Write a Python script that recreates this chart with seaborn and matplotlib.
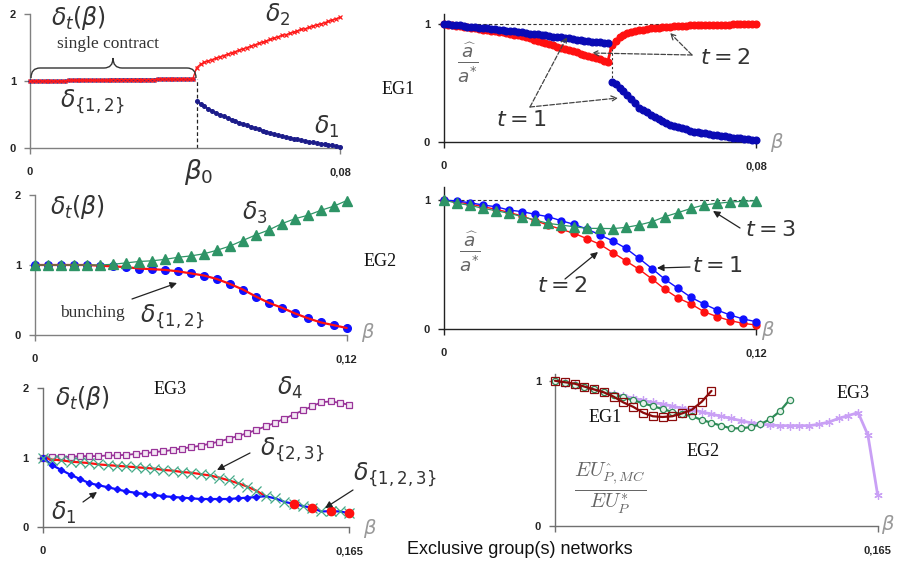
import numpy as np
import matplotlib
matplotlib.use("Agg")
import matplotlib.pyplot as plt
import seaborn as sns
from matplotlib.path import Path
from matplotlib.patches import PathPatch

sns.set_style("white")
plt.rcParams["font.family"] = ["Liberation Sans", "DejaVu Sans"]
plt.rcParams["mathtext.fontset"] = "dejavusans"

# ---------------- data ----------------
beta0 = 0.043
beta_eg1_pre = np.round(np.arange(0, 0.0425, 0.001), 3)      # 0 .. 0.042
beta_eg1_post = np.round(np.arange(0.043, 0.0805, 0.001), 3)  # 0.043 .. 0.080
beta_eg2 = np.round(np.arange(0, 0.1225, 0.005), 3)
beta_eg3 = np.round(np.arange(0, 0.1675, 0.005), 3)

# EG1 contracts
eg1_delta12 = [1.00, 1.00, 1.00, 1.00, 1.00, 1.00, 1.00, 1.00, 1.00, 1.00,
               1.01, 1.01, 1.01, 1.01, 1.01, 1.01, 1.01, 1.01, 1.01, 1.01, 1.01,
               1.02, 1.02, 1.02, 1.02, 1.02, 1.02, 1.02, 1.02, 1.02, 1.02, 1.02, 1.02,
               1.03, 1.03, 1.03, 1.03, 1.03, 1.03, 1.03, 1.03, 1.03, 1.03]
eg1_delta2 = [1.20, 1.25, 1.28, 1.30, 1.32, 1.34, 1.36, 1.38, 1.40, 1.42,
              1.44, 1.46, 1.48, 1.50, 1.52, 1.54, 1.56, 1.58, 1.60, 1.62,
              1.64, 1.66, 1.68, 1.69, 1.71, 1.73, 1.75, 1.77, 1.78, 1.80,
              1.82, 1.84, 1.85, 1.87, 1.89, 1.91, 1.93, 1.95]
eg1_delta1 = [0.70, 0.66, 0.62, 0.585, 0.555, 0.525, 0.50, 0.475, 0.45, 0.425,
              0.40, 0.38, 0.36, 0.34, 0.32, 0.30, 0.28, 0.26, 0.24, 0.225,
              0.21, 0.195, 0.18, 0.165, 0.155, 0.14, 0.13, 0.115, 0.105, 0.095,
              0.085, 0.075, 0.065, 0.055, 0.045, 0.04, 0.03, 0.02]

# EG1 effort ratios
eg1_a1_pre = [1.00, 1.00, 0.995, 0.99, 0.99, 0.985, 0.98, 0.98, 0.975, 0.97,
              0.97, 0.965, 0.96, 0.96, 0.955, 0.95, 0.945, 0.94, 0.94, 0.935,
              0.93, 0.925, 0.92, 0.92, 0.915, 0.91, 0.905, 0.90, 0.895, 0.89,
              0.89, 0.885, 0.88, 0.875, 0.87, 0.865, 0.86, 0.855, 0.85, 0.85,
              0.845, 0.84, 0.84]
eg1_a2_pre = [1.00, 0.993, 0.99, 0.986, 0.982, 0.978, 0.974, 0.97, 0.965, 0.96,
              0.955, 0.95, 0.945, 0.94, 0.935, 0.93, 0.925, 0.92, 0.91, 0.905,
              0.90, 0.89, 0.88, 0.87, 0.86, 0.85, 0.84, 0.83, 0.82, 0.81,
              0.80, 0.79, 0.78, 0.77, 0.76, 0.75, 0.74, 0.73, 0.72, 0.71,
              0.70, 0.69, 0.68]
eg1_a1_post = [0.51, 0.49, 0.46, 0.43, 0.40, 0.36, 0.33, 0.29, 0.27, 0.25,
               0.23, 0.21, 0.19, 0.175, 0.16, 0.145, 0.135, 0.125, 0.115, 0.105,
               0.095, 0.085, 0.08, 0.075, 0.07, 0.065, 0.06, 0.055, 0.05, 0.045,
               0.04, 0.035, 0.032, 0.028, 0.025, 0.02, 0.017, 0.015]
eg1_a2_post = [0.82, 0.86, 0.89, 0.91, 0.925, 0.935, 0.945, 0.95, 0.955, 0.96,
               0.965, 0.97, 0.972, 0.975, 0.978, 0.98, 0.982, 0.984, 0.986, 0.988,
               0.99, 0.991, 0.992, 0.993, 0.994, 0.995, 0.996, 0.997, 0.997, 0.998,
               0.998, 0.999, 0.999, 1.0, 1.0, 1.0, 1.0, 1.0]

# EG2 contracts
eg2_delta3 = [1.00, 1.00, 1.00, 1.00, 1.00, 1.00, 1.01, 1.03, 1.05, 1.06,
              1.08, 1.11, 1.13, 1.16, 1.21, 1.27, 1.35, 1.43, 1.50, 1.59,
              1.66, 1.71, 1.78, 1.84, 1.92]
eg2_delta12 = [1.00, 1.00, 1.00, 1.00, 1.00, 0.99, 0.98, 0.97, 0.95, 0.94,
               0.93, 0.91, 0.88, 0.85, 0.80, 0.73, 0.65, 0.55, 0.46, 0.39,
               0.31, 0.24, 0.18, 0.14, 0.10]

# EG2 effort ratios
eg2_a1 = [1.0, 0.992, 0.979, 0.961, 0.948, 0.922, 0.910, 0.889, 0.871, 0.840,
          0.811, 0.775, 0.729, 0.682, 0.625, 0.548, 0.468, 0.385, 0.315, 0.245,
          0.194, 0.147, 0.109, 0.078, 0.057]
eg2_a2 = [1.0, 0.984, 0.969, 0.948, 0.928, 0.904, 0.876, 0.840, 0.806, 0.773,
          0.742, 0.700, 0.656, 0.592, 0.527, 0.463, 0.388, 0.307, 0.240, 0.194,
          0.134, 0.096, 0.065, 0.044, 0.031]
eg2_a3 = [1.0, 0.974, 0.959, 0.935, 0.917, 0.897, 0.871, 0.845, 0.819, 0.806,
          0.793, 0.780, 0.780, 0.778, 0.788, 0.806, 0.832, 0.871, 0.902, 0.935,
          0.961, 0.974, 0.984, 0.990, 0.995]

# EG3 contracts
eg3_delta4 = [1.00, 1.01, 1.01, 1.01, 1.02, 1.02, 1.02, 1.03, 1.03, 1.04,
              1.05, 1.06, 1.08, 1.09, 1.11, 1.13, 1.15, 1.17, 1.20, 1.23,
              1.27, 1.31, 1.35, 1.40, 1.45, 1.50, 1.56, 1.62, 1.68, 1.74,
              1.80, 1.81, 1.79, 1.76]
eg3_delta1 = [1.00, 0.89, 0.82, 0.75, 0.69, 0.63, 0.60, 0.57, 0.54, 0.51,
              0.49, 0.47, 0.46, 0.44, 0.43, 0.42, 0.41, 0.40, 0.40, 0.40,
              0.40, 0.41, 0.42, 0.43]
eg3_delta23 = [1.00, 0.97, 0.96, 0.94, 0.93, 0.92, 0.90, 0.89, 0.88, 0.87,
               0.86, 0.85, 0.84, 0.82, 0.81, 0.79, 0.78, 0.76, 0.74, 0.71,
               0.67, 0.63, 0.58, 0.52]
eg3_delta123 = [0.44, 0.41, 0.36, 0.33, 0.30, 0.27, 0.22, 0.225, 0.22, 0.195]

# principal's utility ratio
eu_eg1 = [1.00, 0.99, 0.98, 0.96, 0.94, 0.92, 0.89, 0.85, 0.82, 0.78,
          0.755, 0.75, 0.755, 0.775, 0.80, 0.855, 0.93]
eu_eg2 = [1.00, 0.985, 0.97, 0.955, 0.94, 0.925, 0.905, 0.885, 0.865, 0.845,
          0.825, 0.805, 0.785, 0.77, 0.755, 0.73, 0.71, 0.69, 0.672, 0.672,
          0.68, 0.70, 0.735, 0.79, 0.87]
eu_eg3 = [1.00, 0.985, 0.97, 0.955, 0.94, 0.925, 0.91, 0.895, 0.88, 0.865,
          0.85, 0.84, 0.825, 0.81, 0.80, 0.785, 0.77, 0.755, 0.74, 0.725,
          0.71, 0.70, 0.695, 0.69, 0.69, 0.69, 0.69, 0.70, 0.715, 0.74,
          0.76, 0.78, 0.625, 0.21]

# ---------------- figure ----------------
W, H = 897, 566
fig = plt.figure(figsize=(W / 100, H / 100), dpi=100)


def rect(l, r, t, b):
    return [l / W, 1 - b / H, (r - l) / W, (b - t) / H]


def fp(x, y):
    return (x / W, 1 - y / H)


def line(ax, x, y, color, marker=None, ms=4, lw=1.2, ls="-", mfc=None,
         mec=None, mew=1.0, z=3, markevery=None):
    kw = dict(color=color, linewidth=lw, linestyle=ls, zorder=z, clip_on=False)
    if marker is not None:
        kw.update(marker=marker, markersize=ms,
                  markerfacecolor=color if mfc is None else mfc,
                  markeredgecolor=color if mec is None else mec,
                  markeredgewidth=mew)
        if markevery is not None:
            kw["markevery"] = markevery
    sns.lineplot(x=np.asarray(x), y=np.asarray(y), ax=ax, estimator=None,
                 sort=False, legend=False, **kw)


def style(ax, xmax, ymax, xlabels, yticks, sc):
    ax.set_xlim(0, xmax)
    ax.set_ylim(0, ymax)
    ax.patch.set_alpha(0)
    for s in ["top", "right"]:
        ax.spines[s].set_visible(False)
    for s in ["left", "bottom"]:
        ax.spines[s].set_color(sc)
        ax.spines[s].set_linewidth(1.0)
    ax.set_xticks([0, xmax])
    ax.set_xticklabels(xlabels)
    ax.set_yticks(yticks)
    ax.set_yticklabels([str(v) for v in yticks])
    ax.tick_params(axis="both", direction="out", length=4, width=1, color=sc,
                   labelsize=8, bottom=True, left=True)
    ax.tick_params(axis="x", pad=10)
    ax.tick_params(axis="y", pad=6)
    for lab in ax.get_xticklabels() + ax.get_yticklabels():
        lab.set_fontweight("bold")
    ax.set_xlabel("")
    ax.set_ylabel("")


MC = "#333333"
GR = "#666666"


def T(s, x, y, size=16, color=MC, family=None, **kw):
    d = dict(ha="center", va="center", fontsize=size, color=color)
    if family:
        d["family"] = family
    d.update(kw)
    fig.text(*fp(x, y), s, **d)


def A(x0, y0, x1, y1, dashed=False, color="#222222"):
    fig.add_artist(matplotlib.patches.FancyArrowPatch(
        fp(x0, y0), fp(x1, y1), transform=fig.transFigure,
        arrowstyle="-|>,head_length=4,head_width=2" if not dashed else "->,head_length=4,head_width=2",
        linestyle="--" if dashed else "-", linewidth=0.9, color=color,
        mutation_scale=1, shrinkA=0, shrinkB=0))


SERIF = ["Liberation Serif", "DejaVu Serif"]

# ---- Panel 1 : EG1 contracts ----
ax1 = fig.add_axes(rect(30, 340, 14, 148))
navy = "#1c1c8a"
red = "#ff1a1a"
line(ax1, beta_eg1_pre, eg1_delta12, navy, "o", ms=2.2, lw=1.5, z=3)
line(ax1, beta_eg1_post, eg1_delta1, navy, "o", ms=2.6, lw=1.2, z=3)
line(ax1, np.concatenate([beta_eg1_pre, beta_eg1_post]),
     eg1_delta12 + eg1_delta2, red, "x", ms=3.2, lw=1.0, mew=0.9, z=4)
ax1.vlines(beta0, 0, eg1_delta12[-1], colors="#222222", linestyles=(0, (3, 2)),
           linewidth=0.9, zorder=2)
style(ax1, 0.08, 2, ["0", "0,08"], [0, 1, 2], "#808080")

# brace
bp = [(31, 78), (31, 68), (40, 68), (104, 68), (113, 68), (113, 58),
      (113, 68), (122, 68), (187, 68), (196, 68), (196, 78)]
codes = [Path.MOVETO, Path.CURVE3, Path.CURVE3, Path.LINETO, Path.CURVE3,
         Path.CURVE3, Path.CURVE3, Path.CURVE3, Path.LINETO, Path.CURVE3,
         Path.CURVE3]
fig.add_artist(PathPatch(Path([fp(*p) for p in bp], codes),
                         transform=fig.transFigure, facecolor="none",
                         edgecolor="#333333", linewidth=1.0))

T(r"$\delta_t(\beta)$", 79, 18, 17)
T("single contract", 108, 44, 12.5, family=SERIF)
T(r"$\delta_{\{1,2\}}$", 92, 101, 17)
T(r"$\delta_2$", 278, 15, 17)
T(r"$\delta_1$", 327, 127, 17)
T("EG1", 398, 90, 13, color="#111111", family=SERIF)
T(r"$\beta_0$", 199, 172, 19)

# ---- Panel 2 : EG1 efforts ----
ax2 = fig.add_axes(rect(444, 756, 13.7, 141.7))
blue2 = "#0a0ab4"
red2 = "#ff1010"
ax2.hlines(1, 0, 0.08, colors="#333333", linestyles=(0, (3, 2)), linewidth=0.8, zorder=1)
line(ax2, np.concatenate([beta_eg1_pre, beta_eg1_post]),
     eg1_a2_pre + eg1_a2_post, red2, "o", ms=4.8, lw=2, z=3)
line(ax2, beta_eg1_pre, eg1_a1_pre, blue2, "o", ms=4.8, lw=2, z=4)
line(ax2, beta_eg1_post, eg1_a1_post, blue2, "o", ms=4.8, lw=2, z=4)
ax2.vlines(beta0, eg1_a1_post[0], eg1_a1_pre[-1], colors="#333333",
           linestyles=(0, (2, 2)), linewidth=0.8, zorder=2)
style(ax2, 0.08, 1.09, ["0", "0,08"], [0, 1], "#222222")
T(r"$\frac{\widehat{a}}{a^{*}}$", 468, 63, 19, color=GR)
T(r"$t=2$", 725, 59, 16)
T(r"$t=1$", 521, 120, 16)
T(r"$\beta$", 777, 143, 14, color="#999999")
A(692, 55, 670, 33, dashed=True, color="#444444")
A(692, 55, 592, 53, dashed=True, color="#444444")
A(530, 107, 567, 37, dashed=True, color="#444444")
A(530, 107, 618, 98, dashed=True, color="#444444")

# ---- Panel 3 : EG2 contracts ----
ax3 = fig.add_axes(rect(35, 346.7, 195, 335))
green = "#2e9466"
line(ax3, beta_eg2, eg2_delta12, "#1010ff", "o", ms=5.5, lw=0, ls="none", z=3)
line(ax3, beta_eg2, eg2_delta12, "#ff1010", lw=1.6, z=4)
line(ax3, beta_eg2, eg2_delta3, green, "^", ms=6.5, lw=0.9, z=5)
style(ax3, 0.12, 2, ["0", "0,12"], [0, 1, 2], "#808080")
T(r"$\delta_t(\beta)$", 78, 207, 17)
T(r"$\delta_3$", 255, 213, 17)
T("EG2", 380, 262, 13, color="#111111", family=SERIF)
T("bunching", 92, 313, 12.5, family=SERIF)
T(r"$\delta_{\{1,2\}}$", 172, 316, 17)
T(r"$\beta$", 368, 332, 14, color="#999999")
A(132, 299, 177, 283)

# ---- Panel 4 : EG2 efforts ----
ax4 = fig.add_axes(rect(444, 756, 187.1, 329))
ax4.hlines(1, 0, 0.12, colors="#333333", linestyles=(0, (3, 2)), linewidth=0.8, zorder=1)
line(ax4, beta_eg2, eg2_a2, "#ff1010", "o", ms=5, lw=1, z=3)
line(ax4, beta_eg2, eg2_a1, "#1010ff", "o", ms=5, lw=1, z=4)
line(ax4, beta_eg2, eg2_a3, green, "^", ms=6.5, lw=0.9, z=5)
style(ax4, 0.12, 1.10, ["0", "0,12"], [0, 1], "#222222")
T(r"$\frac{\widehat{a}}{a^{*}}$", 470, 252, 19, color=GR)
T(r"$t=3$", 770, 230, 16)
T(r"$t=1$", 717, 267, 16)
T(r"$t=2$", 562, 286, 16)
T(r"$\beta$", 768, 330, 14, color="#999999")
A(740, 228, 713, 211)
A(690, 267, 657, 268)
A(565, 279, 598, 252)

# ---- Panel 5 : EG3 contracts ----
ax5 = fig.add_axes(rect(42.7, 349.3, 388.3, 526.7))
purple = "#993399"
n23 = len(eg3_delta23)
line(ax5, beta_eg3, eg3_delta4, purple, "s", ms=4.5, lw=1.3, mfc="#f4e8f4",
     mec=purple, mew=0.9, z=3)
line(ax5, beta_eg3[:n23 + 1], eg3_delta23 + eg3_delta123[:1], "#ff1010", lw=1.6, z=3)
line(ax5, beta_eg3, eg3_delta1 + eg3_delta123, "#1010ff", "D", ms=3.2, lw=1.6, z=4,
     markevery=list(range(len(eg3_delta1))))
line(ax5, beta_eg3, eg3_delta23 + eg3_delta123, "#44aa88", "x", ms=6.5, lw=0,
     ls="none", mew=0.9, z=5)
line(ax5, beta_eg3[n23:], eg3_delta123, "#ff1010", "o", ms=6, lw=0, ls="none",
     z=6, markevery=[3, 5, 7, 9])
style(ax5, 0.165, 2, ["0", "0,165"], [0, 1, 2], "#707070")
T(r"$\delta_t(\beta)$", 83, 398, 17)
T("EG3", 170, 390, 13, color="#111111", family=SERIF)
T(r"$\delta_4$", 290, 388, 17)
T(r"$\delta_{\{2,3\}}$", 292, 449, 17)
T(r"$\delta_{\{1,2,3\}}$", 395, 474, 17)
T(r"$\delta_1$", 64, 513, 17)
T(r"$\beta$", 370, 528, 14, color="#999999")
A(250, 453, 217, 470)
A(353, 490, 325, 508)
A(83, 502, 97, 492)

# ---- Panel 6 : principal's utility ----
ax6 = fig.add_axes(rect(555, 877.7, 373.5, 525.7))
n1, n2 = len(eu_eg1), len(eu_eg2)
line(ax6, beta_eg3, eu_eg3, "#c9a0f5", (6, 2, 0), ms=6, lw=2, mew=0.9, z=3)
line(ax6, beta_eg3[:n2], eu_eg2, "#2e8b57", "o", ms=4.5, lw=1.6, mfc="#e6f2ea",
     mec="#2e8b57", mew=0.9, z=4)
line(ax6, beta_eg3[:n1], eu_eg1, "#8b0a0a", "s", ms=6, lw=1.6, mfc="none",
     mec="#8b0a0a", mew=0.9, z=5)
style(ax6, 0.165, 1.05, ["", "0,165"], [0, 1], "#707070")
T("EG1", 605, 418, 13, color="#111111", family=SERIF)
T("EG2", 703, 452, 13, color="#111111", family=SERIF)
T("EG3", 853, 393, 13, color="#111111", family=SERIF)
fig.text(*fp(610, 488), r"$\frac{EU^{\hat{\ }}_{P,MC}}{EU^{*}_{P}}$", ha="center",
         va="center", fontsize=21, color=GR, math_fontfamily="cm")
T(r"$\beta$", 888, 525, 14, color="#999999")

T("Exclusive group(s) networks", 520, 549, 13, color="#111111")

fig.savefig("out.png", dpi=100)
